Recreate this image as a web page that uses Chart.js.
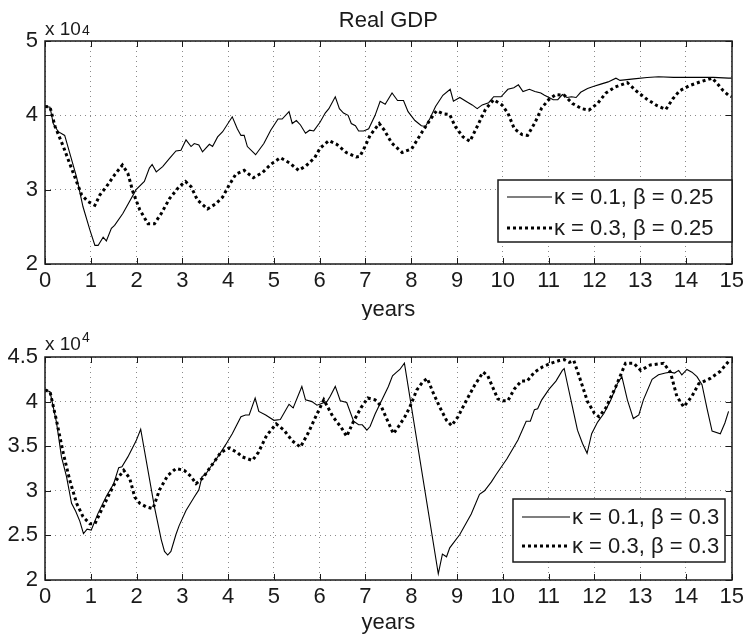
<!DOCTYPE html>
<html>
<head>
<meta charset="utf-8">
<title>Real GDP</title>
<script src="https://cdn.jsdelivr.net/npm/chart.js@4.4.0/dist/chart.umd.min.js"></script>
<style>
  html, body { margin: 0; padding: 0; background: #ffffff; }
  #wrap { position: relative; width: 748px; height: 638px; }
  canvas { position: absolute; left: 0; }
  #gdpTop { top: 0; }
  #gdpBottom { top: 320px; }
</style>
</head>
<body>
<div id="wrap">
  <canvas id="gdpTop" width="748" height="320"></canvas>
  <canvas id="gdpBottom" width="748" height="318"></canvas>
</div>
<script>
// Real GDP paths (units of 10^4) over 15 years, as [year, value] pairs.
const gdpK01B025 = [
  [0,4.12],[0.11,4.11],[0.18,3.89],[0.29,3.78],[0.43,3.73],[0.5,3.58],[0.69,3.17],[0.83,2.77],[0.98,2.46],
  [1.09,2.25],[1.16,2.25],[1.27,2.36],[1.34,2.31],[1.45,2.48],[1.52,2.52],[1.70,2.68],[1.99,3.0],[2.17,3.11],
  [2.28,3.29],[2.34,3.34],[2.43,3.24],[2.57,3.31],[2.72,3.42],[2.86,3.52],[2.97,3.53],[3.08,3.67],[3.19,3.58],
  [3.26,3.62],[3.36,3.60],[3.44,3.51],[3.59,3.61],[3.66,3.58],[3.77,3.71],[3.88,3.78],[4.09,3.98],[4.2,3.82],
  [4.28,3.73],[4.35,3.73],[4.42,3.58],[4.6,3.47],[4.78,3.62],[4.93,3.80],[5.09,3.95],[5.18,3.95],[5.33,4.05],
  [5.4,3.89],[5.49,3.93],[5.58,3.87],[5.69,3.76],[5.78,3.80],[5.87,3.79],[6.01,3.91],[6.12,4.03],[6.2,4.09],
  [6.34,4.25],[6.43,4.09],[6.52,4.03],[6.62,4.0],[6.69,3.89],[6.78,3.86],[6.85,3.79],[6.96,3.79],[7.07,3.82],
  [7.21,4.0],[7.32,4.19],[7.43,4.15],[7.58,4.30],[7.70,4.20],[7.83,4.20],[7.93,4.05],[8.08,3.93],[8.22,3.86],
  [8.31,3.85],[8.41,3.96],[8.53,4.12],[8.69,4.27],[8.85,4.35],[8.92,4.19],[9.06,4.24],[9.22,4.18],[9.33,4.14],
  [9.44,4.09],[9.55,4.14],[9.69,4.17],[9.80,4.25],[9.96,4.25],[10.11,4.35],[10.24,4.37],[10.34,4.41],
  [10.44,4.32],[10.58,4.35],[10.70,4.32],[10.83,4.30],[10.91,4.27],[11.01,4.24],[11.10,4.21],[11.2,4.21],
  [11.30,4.28],[11.40,4.24],[11.50,4.25],[11.6,4.24],[11.7,4.31],[11.85,4.36],[11.99,4.39],[12.14,4.42],
  [12.30,4.45],[12.47,4.50],[12.56,4.47],[12.86,4.49],[13.15,4.51],[13.40,4.52],[13.73,4.51],[14.17,4.51],
  [14.6,4.51],[14.93,4.50],[15,4.50]
];
const gdpK03B025 = [
  [0,4.12],[0.11,4.11],[0.22,3.85],[0.4,3.58],[0.62,3.22],[0.8,2.93],[0.94,2.84],[1.09,2.79],[1.2,2.93],
  [1.34,3.04],[1.52,3.20],[1.69,3.33],[1.81,3.22],[1.92,2.97],[2.07,2.73],[2.25,2.54],[2.39,2.54],[2.54,2.68],
  [2.72,2.88],[2.93,3.04],[3.07,3.11],[3.19,3.04],[3.33,2.86],[3.55,2.74],[3.73,2.81],[3.88,2.90],[4.02,3.06],
  [4.17,3.21],[4.35,3.26],[4.55,3.16],[4.75,3.23],[4.93,3.34],[5.14,3.43],[5.34,3.36],[5.54,3.26],[5.70,3.32],
  [5.89,3.43],[6.01,3.56],[6.2,3.66],[6.37,3.61],[6.58,3.50],[6.80,3.44],[6.88,3.45],[6.99,3.58],[7.1,3.73],
  [7.30,3.89],[7.41,3.80],[7.57,3.63],[7.80,3.50],[8.01,3.55],[8.24,3.78],[8.41,3.94],[8.55,4.06],[8.70,4.02],
  [8.84,4.01],[8.96,3.85],[9.13,3.71],[9.28,3.65],[9.44,3.85],[9.62,4.08],[9.80,4.21],[9.98,4.14],[10.11,4.03],
  [10.25,3.82],[10.42,3.74],[10.54,3.73],[10.70,3.90],[10.85,4.10],[11.0,4.21],[11.16,4.28],[11.34,4.27],
  [11.52,4.16],[11.72,4.09],[11.88,4.07],[12.07,4.16],[12.25,4.30],[12.45,4.38],[12.72,4.44],[12.93,4.32],
  [13.14,4.22],[13.37,4.13],[13.56,4.08],[13.71,4.22],[13.86,4.33],[14.08,4.40],[14.31,4.45],[14.57,4.50],
  [14.68,4.43],[14.80,4.34],[14.93,4.27],[15,4.25]
];
const gdpK01B03 = [
  [0,4.13],[0.11,4.11],[0.25,3.77],[0.36,3.38],[0.47,3.16],[0.58,2.86],[0.67,2.77],[0.76,2.66],[0.84,2.52],
  [0.92,2.57],[1.01,2.56],[1.16,2.75],[1.34,2.94],[1.50,3.08],[1.61,3.26],[1.68,3.27],[1.81,3.38],[1.99,3.56],
  [2.09,3.69],[2.39,2.82],[2.54,2.45],[2.61,2.32],[2.68,2.28],[2.75,2.32],[2.86,2.51],[2.93,2.61],[3.08,2.78],
  [3.26,2.93],[3.36,3.01],[3.43,3.16],[3.50,3.18],[3.62,3.27],[3.80,3.40],[3.95,3.52],[4.09,3.64],[4.28,3.83],
  [4.38,3.85],[4.46,3.85],[4.59,4.04],[4.67,3.89],[4.82,3.85],[5.0,3.79],[5.14,3.80],[5.33,3.97],[5.42,3.93],
  [5.61,4.17],[5.69,4.02],[5.83,4.0],[5.94,3.96],[6.16,4.0],[6.23,4.06],[6.34,4.17],[6.45,4.01],[6.59,3.99],
  [6.74,3.78],[6.85,3.74],[6.93,3.74],[7.03,3.68],[7.10,3.72],[7.21,3.86],[7.36,4.02],[7.50,4.17],[7.59,4.29],
  [7.68,4.33],[7.75,4.36],[7.85,4.43],[8.59,2.07],[8.68,2.29],[8.77,2.26],[8.84,2.36],[9.06,2.51],[9.31,2.74],
  [9.49,2.96],[9.60,3.0],[9.75,3.10],[9.85,3.18],[10.09,3.36],[10.33,3.57],[10.51,3.78],[10.60,3.78],
  [10.69,3.91],[10.76,3.92],[10.85,4.02],[11.01,4.14],[11.16,4.23],[11.30,4.35],[11.34,4.37],[11.41,4.20],
  [11.52,3.94],[11.63,3.68],[11.74,3.53],[11.84,3.42],[11.94,3.64],[12.07,3.77],[12.21,3.87],[12.36,4.02],
  [12.50,4.20],[12.60,4.28],[12.72,4.02],[12.85,3.81],[12.97,3.85],[13.07,4.02],[13.26,4.25],[13.40,4.30],
  [13.55,4.32],[13.66,4.33],[13.75,4.32],[13.84,4.35],[13.91,4.30],[14.02,4.36],[14.13,4.33],[14.24,4.28],
  [14.35,4.19],[14.46,3.92],[14.57,3.67],[14.75,3.64],[14.85,3.76],[14.93,3.89]
];
const gdpK03B03 = [
  [0,4.13],[0.11,4.11],[0.25,3.79],[0.4,3.42],[0.54,3.12],[0.69,2.86],[0.83,2.71],[0.98,2.63],[1.09,2.63],
  [1.23,2.78],[1.41,2.97],[1.56,3.12],[1.72,3.23],[1.85,3.14],[1.96,2.93],[2.07,2.86],[2.21,2.82],[2.36,2.80],
  [2.5,3.01],[2.68,3.17],[2.86,3.25],[3.04,3.23],[3.19,3.16],[3.3,3.08],[3.44,3.14],[3.66,3.30],[3.84,3.43],
  [4.02,3.48],[4.2,3.43],[4.31,3.38],[4.53,3.34],[4.66,3.43],[4.84,3.62],[5.05,3.75],[5.22,3.68],[5.40,3.56],
  [5.58,3.49],[5.75,3.65],[5.93,3.85],[6.09,4.02],[6.29,3.83],[6.47,3.71],[6.59,3.61],[6.74,3.78],[6.90,3.93],
  [7.05,4.04],[7.21,4.02],[7.34,3.95],[7.46,3.81],[7.61,3.64],[7.72,3.72],[7.86,3.83],[7.97,3.94],[8.12,4.13],
  [8.25,4.22],[8.35,4.26],[8.47,4.11],[8.62,3.94],[8.77,3.79],[8.88,3.73],[9.02,3.83],[9.2,4.01],[9.38,4.18],
  [9.57,4.33],[9.67,4.29],[9.78,4.16],[9.89,4.03],[10.0,4.01],[10.11,4.01],[10.25,4.14],[10.4,4.23],
  [10.53,4.23],[10.69,4.33],[10.87,4.39],[11.05,4.43],[11.23,4.46],[11.34,4.47],[11.45,4.44],[11.55,4.46],
  [11.67,4.28],[11.85,4.00],[12.0,3.87],[12.1,3.83],[12.25,3.93],[12.46,4.16],[12.68,4.43],[12.86,4.43],
  [13.01,4.35],[13.22,4.41],[13.51,4.43],[13.66,4.33],[13.80,4.06],[13.95,3.94],[14.13,4.06],[14.28,4.20],
  [14.53,4.26],[14.75,4.34],[14.93,4.45]
];

// Axis ticks and legend entries
const yearTicks = [0,1,2,3,4,5,6,7,8,9,10,11,12,13,14,15];
const gdpTicksTop = [2,3,4,5];
const gdpTicksBottom = [2,2.5,3,3.5,4,4.5];
const legendTop = ['\u03ba = 0.1, \u03b2 = 0.25', '\u03ba = 0.3, \u03b2 = 0.25'];
const legendBottom = ['\u03ba = 0.1, \u03b2 = 0.3', '\u03ba = 0.3, \u03b2 = 0.3'];

const FONT = '"Liberation Sans", Arial, Helvetica, sans-serif';
const INK = '#1a1a1a';

const toPoints = pairs => pairs.map(([x, y]) => ({ x, y }));

// Boxed axes with inward ticks, titles, exponent label and a framed legend.
const matlabAxes = {
  id: 'matlabAxes',
  afterDatasetsDraw(chart, args, o) {
    const { ctx, chartArea: a, scales: { x, y } } = chart;
    ctx.save();
    ctx.strokeStyle = INK;
    ctx.lineWidth = 1;
    ctx.setLineDash([]);
    const tl = 6;
    ctx.beginPath();
    x.ticks.forEach(t => {
      const px = Math.round(x.getPixelForValue(t.value)) + 0.5;
      ctx.moveTo(px, a.bottom); ctx.lineTo(px, a.bottom - tl);
      ctx.moveTo(px, a.top); ctx.lineTo(px, a.top + tl);
    });
    y.ticks.forEach(t => {
      const py = Math.round(y.getPixelForValue(t.value)) + 0.5;
      ctx.moveTo(a.left, py); ctx.lineTo(a.left + tl, py);
      ctx.moveTo(a.right, py); ctx.lineTo(a.right - tl, py);
    });
    ctx.stroke();
    ctx.lineWidth = 1.5;
    ctx.strokeRect(Math.round(a.left), Math.round(a.top), Math.round(a.right - a.left), Math.round(a.bottom - a.top));

    // legend
    const L = o.legend;
    const bx = a.left + L.left, by = a.top + L.top;
    ctx.fillStyle = '#ffffff';
    ctx.fillRect(bx, by, L.width, L.height);
    ctx.lineWidth = 1.5;
    ctx.strokeRect(bx, by, L.width, L.height);
    ctx.font = `${L.fontSize}px ${FONT}`;
    ctx.textBaseline = 'middle';
    ctx.textAlign = 'left';
    chart.data.datasets.forEach((d, i) => {
      const yy = by + L.rows[i];
      ctx.strokeStyle = d.borderColor;
      ctx.lineWidth = d.borderWidth;
      ctx.setLineDash(d.borderDash || []);
      ctx.beginPath();
      ctx.moveTo(bx + L.padLeft, yy);
      ctx.lineTo(bx + L.padLeft + L.sample, yy);
      ctx.stroke();
      ctx.setLineDash([]);
      ctx.fillStyle = INK;
      ctx.fillText(d.label, bx + L.padLeft + L.sample + 2, yy + 1);
    });

    // exponent label above the y axis
    ctx.fillStyle = INK;
    ctx.textBaseline = 'alphabetic';
    ctx.font = `19px ${FONT}`;
    const base = 'x 10';
    ctx.fillText(base, a.left, o.expBaseline);
    const bw = ctx.measureText(base).width;
    ctx.font = `14px ${FONT}`;
    ctx.fillText('4', a.left + bw + 1, o.expBaseline + o.expShift);

    // x axis title
    ctx.font = `22px ${FONT}`;
    ctx.textAlign = 'center';
    ctx.fillText('years', (a.left + a.right) / 2, o.xTitleBaseline);

    if (o.title) {
      ctx.fillText(o.title, (a.left + a.right) / 2, o.titleBaseline);
    }
    ctx.restore();
  }
};

function makeChart(id, series, labels, yTicks, cfg) {
  const datasets = [
    { label: labels[0], data: toPoints(series[0]), borderColor: '#000000', borderWidth: 1.1,
      pointRadius: 0, tension: 0, fill: false },
    { label: labels[1], data: toPoints(series[1]), borderColor: '#000000', borderWidth: 3,
      borderDash: [3, 3], pointRadius: 0, tension: 0, fill: false }
  ];
  const tickFont = { family: FONT, size: 22 };
  return new Chart(document.getElementById(id), {
    type: 'line',
    data: { datasets },
    plugins: [matlabAxes],
    options: {
      responsive: false,
      animation: false,
      devicePixelRatio: 1,
      layout: { padding: { top: cfg.padTop, right: 13, left: 0, bottom: 0 } },
      plugins: {
        legend: { display: false },
        tooltip: { enabled: false },
        matlabAxes: cfg.axes
      },
      scales: {
        x: {
          type: 'linear', min: 0, max: 15,
          afterBuildTicks: s => { s.ticks = yearTicks.map(v => ({ value: v })); },
          afterFit: s => { s.height = cfg.xHeight; },
          ticks: { font: tickFont, color: INK, padding: 4, maxRotation: 0, autoSkip: false,
                   callback: v => String(v) },
          grid: { color: '#8a8a8a', lineWidth: 1, drawTicks: false },
          border: { display: false, dash: [1, 4] }
        },
        y: {
          type: 'linear', min: yTicks[0], max: yTicks[yTicks.length - 1],
          afterBuildTicks: s => { s.ticks = yTicks.map(v => ({ value: v })); },
          afterFit: s => { s.width = 45; },
          ticks: { font: tickFont, color: INK, padding: 7, callback: v => String(v) },
          grid: { color: '#8a8a8a', lineWidth: 1, drawTicks: false },
          border: { display: false, dash: [1, 4] }
        }
      }
    }
  });
}

makeChart('gdpTop', [gdpK01B025, gdpK03B025], legendTop, gdpTicksTop, {
  padTop: 41, xHeight: 56,
  axes: {
    title: 'Real GDP', titleBaseline: 27,
    expBaseline: 35, expShift: 0,
    xTitleBaseline: 316,
    legend: { left: 453, top: 139, width: 234, height: 62, rows: [17, 48],
              padLeft: 9, sample: 45, fontSize: 22 }
  }
});

makeChart('gdpBottom', [gdpK01B03, gdpK03B03], legendBottom, gdpTicksBottom, {
  padTop: 37, xHeight: 58,
  axes: {
    title: null,
    expBaseline: 30, expShift: -8,
    xTitleBaseline: 309,
    legend: { left: 468, top: 142, width: 212, height: 63, rows: [18, 47],
              padLeft: 9, sample: 48, fontSize: 22 }
  }
});
</script>
</body>
</html>
